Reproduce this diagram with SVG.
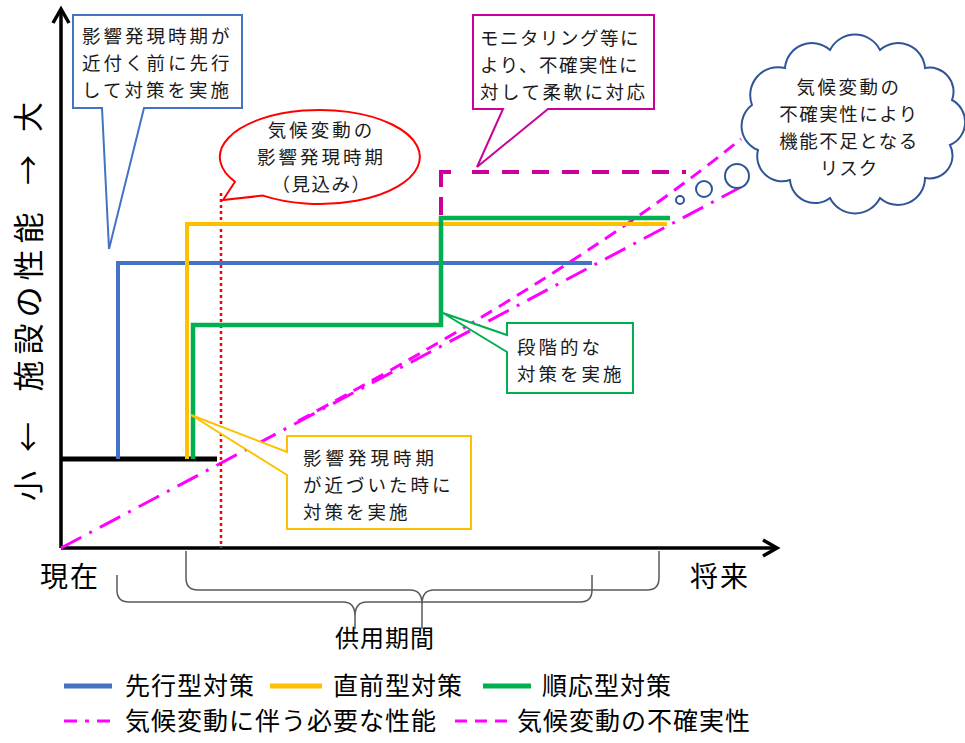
<svg xmlns="http://www.w3.org/2000/svg" width="965" height="743" viewBox="0 0 965 743">
<style>
text { font-family: 'Noto Sans CJK JP', 'Noto Sans CJK SC', sans-serif; fill: #1a1a1a; }
.t20 { font-size: 18.5px; letter-spacing: 3px; }
.lg { font-size: 25px; letter-spacing: 1px; fill: #000; }
.ax { font-size: 28px; letter-spacing: 2px; fill: #000; }
.yl { font-size: 30px; fill: #000; }
.axis { stroke: #000; stroke-width: 3.5; fill: none; }
.blue { stroke: #4472C4; stroke-width: 4; fill: none; }
.yel { stroke: #FFC000; stroke-width: 4; fill: none; }
.grn { stroke: #00B050; stroke-width: 4.5; fill: none; }
.mag { stroke: #CC0099; stroke-width: 4; fill: none; }
.pdash { stroke: #FF00FF; stroke-width: 3; fill: none; stroke-dasharray: 13 8; }
.pdd { stroke: #FF00FF; stroke-width: 3; fill: none; stroke-dasharray: 23 9 3 9; }
.brace { stroke: #595959; stroke-width: 1.5; fill: none; }
.bub { stroke: #2F5597; stroke-width: 2; fill: #fff; }
</style>

<g id="axes">
  <path class="axis" d="M61,548 V9"/>
  <polyline class="axis" points="53,23 61,9 69,23"/>
  <path class="axis" d="M61,548 H777"/>
  <polyline class="axis" points="763,540 777,548 763,556"/>
  <g id="y-label">
    <text class="yl" text-anchor="middle" transform="translate(29,117) rotate(-90)" x="0" y="10">大</text>
    <text class="yl" text-anchor="middle" transform="translate(29,170) rotate(-90)" x="0" y="10">→</text>
    <text class="yl" text-anchor="middle" transform="translate(29,299) rotate(-90)" x="0" y="10.5" style="font-size:31px;letter-spacing:6px">施設の性能</text>
    <text class="yl" text-anchor="middle" transform="translate(29,437) rotate(-90)" x="0" y="10">←</text>
    <text class="yl" text-anchor="middle" transform="translate(29,486) rotate(-90)" x="0" y="10">小</text>
  </g>
  <text class="ax" x="40" y="587">現在</text>
  <text class="ax" x="690" y="587">将来</text>
</g>

<g id="connectors">
  <path class="pdd" d="M61,548 L741,187"/>
  <path class="pdash" d="M298,421 Q580,270 741,139"/>
  <path d="M61,459 H217" stroke="#000" stroke-width="5" fill="none"/>
  <path id="red-line" d="M221,193 V548" stroke="#FF0000" stroke-width="2.5" stroke-dasharray="3 3" fill="none"/>
  <path id="senko" class="blue" d="M118,459 V263 H592"/>
  <path id="chokuzen" class="yel" d="M187,459 V224 H667"/>
  <path id="junno" class="grn" d="M193,459 V325 H441 V218 H670"/>
  <path class="mag" d="M441,215 V172 H451" stroke-dasharray="18 10 30"/>
  <path class="mag" d="M472,172 H686" stroke-dasharray="17 13"/>
</g>

<g id="braces">
  <path class="brace" d="M117,575 V590 Q117,602 129,602 H343 Q355,602 355,616 V629 V616 Q355,602 367,602 H580 Q592,602 592,590 V575"/>
  <path class="brace" d="M186,551 V578 Q186,590 198,590 H410 Q422,590 422,604 V629 V604 Q422,590 434,590 H647 Q659,590 659,578 V551"/>
  <text x="385" y="647" text-anchor="middle" style="font-size:24px;letter-spacing:1px;fill:#000">供用期間</text>
</g>

<g id="callout-senko">
  <path d="M73,15 H242 V108 H144 L109,249 L102,108 H73 Z" fill="#fff" stroke="#4472C4" stroke-width="2"/>
  <text class="t20" x="82" y="42.5">影響発現時期が</text>
  <text class="t20" x="82" y="69.5">近付く前に先行</text>
  <text class="t20" x="82" y="96.5">して対策を実施</text>
</g>

<g id="callout-eikyo">
  <path d="M263,195.6 A100,47 0 1 0 235,181.8 L223,200 Z" fill="#fff" stroke="#FF0000" stroke-width="2"/>
  <text class="t20" x="321.5" y="137" text-anchor="middle">気候変動の</text>
  <text class="t20" x="321.5" y="164" text-anchor="middle">影響発現時期</text>
  <text class="t20" x="321.5" y="191" text-anchor="middle" style="letter-spacing:1.5px">（見込み）</text>
</g>

<g id="callout-monitoring">
  <path d="M473,15 H654 V109 H548 L477,167 L503,109 H473 Z" fill="#fff" stroke="#CC0099" stroke-width="2"/>
  <text class="t20" x="480" y="44.5" style="letter-spacing:1.5px">モニタリング等に</text>
  <text class="t20" x="480" y="71.5" style="letter-spacing:1.5px">より、不確実性に</text>
  <text class="t20" x="480" y="98.5" style="letter-spacing:2.5px">対して柔軟に対応</text>
</g>

<g id="callout-dankai">
  <path d="M507,323 H633 V393 H507 V352 L443,313 L507,335 Z" fill="#fff" stroke="#00B050" stroke-width="2"/>
  <text class="t20" x="517" y="353.5">段階的な</text>
  <text class="t20" x="517" y="380.5">対策を実施</text>
</g>

<g id="callout-chokuzen">
  <path d="M287,436 H471 V529 H287 V475 L191,415 L287,452 Z" fill="#fff" stroke="#FFC000" stroke-width="2"/>
  <text class="t20" x="303" y="464.5" style="letter-spacing:4px">影響発現時期</text>
  <text class="t20" x="303" y="491.5">が近づいた時に</text>
  <text class="t20" x="303" y="518.5">対策を実施</text>
</g>

<g id="cloud-risk">
  <circle class="bub" cx="680" cy="200" r="4"/>
  <circle class="bub" cx="704" cy="189" r="8"/>
  <circle class="bub" cx="737" cy="176" r="12"/>
  <path class="bub" d="M758,150 A26,26 0 0 1 752,105 A28,28 0 0 1 785,68 A27,27 0 0 1 830,50 A28,28 0 0 1 880,50 A27,27 0 0 1 925,68 A24,24 0 0 1 952,100 A25,25 0 0 1 950,145 A23,23 0 0 1 925,178 A27,27 0 0 1 880,198 A28,28 0 0 1 830,198 A25,25 0 0 1 790,180 A25,25 0 0 1 758,150 Z"/>
  <text class="t20" x="849" y="93.5" text-anchor="middle" style="letter-spacing:2.5px">気候変動の</text>
  <text class="t20" x="849" y="120.5" text-anchor="middle" style="letter-spacing:1.5px">不確実性により</text>
  <text class="t20" x="849" y="147.5" text-anchor="middle" style="letter-spacing:1.5px">機能不足となる</text>
  <text class="t20" x="849" y="174.5" text-anchor="middle" style="letter-spacing:1px">リスク</text>
</g>

<g id="legend">
  <path d="M64,686 H112" stroke="#4472C4" stroke-width="5"/>
  <text class="lg" x="125" y="695">先行型対策</text>
  <path d="M270,686 H322" stroke="#FFC000" stroke-width="5"/>
  <text class="lg" x="333" y="695">直前型対策</text>
  <path d="M483,686 H531" stroke="#00B050" stroke-width="5"/>
  <text class="lg" x="542" y="695">順応型対策</text>
  <path d="M64,721 H112" stroke="#FF00FF" stroke-width="3" stroke-dasharray="13 8 4 8"/>
  <text class="lg" x="125" y="730">気候変動に伴う必要な性能</text>
  <path d="M455,721 H510" stroke="#FF00FF" stroke-width="3" stroke-dasharray="12 8"/>
  <text class="lg" x="517" y="730">気候変動の不確実性</text>
</g>
</svg>
